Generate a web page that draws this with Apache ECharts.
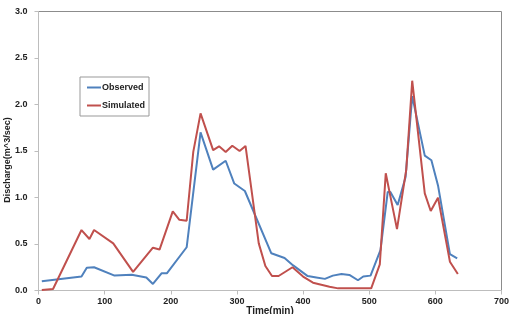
<!DOCTYPE html>
<html>
<head>
<meta charset="utf-8">
<script src="https://cdn.jsdelivr.net/npm/echarts@6/dist/echarts.min.js"></script>
<style>
  html, body { margin: 0; padding: 0; background: #fff; }
  #chart { width: 510px; height: 314px; }
</style>
</head>
<body>
<div id="chart"></div>
<script>
// time (min) / discharge
const obsTime = [5, 65, 73, 84, 115, 141, 163, 173, 186, 194, 224, 245, 264, 283, 296, 312, 352, 372, 385, 407, 420, 433, 445, 458, 470, 483, 491, 502, 517, 528, 532, 543, 555, 565, 584, 594, 604, 622, 633]
const obsFlow = [0.10, 0.15, 0.245, 0.25, 0.16, 0.17, 0.14, 0.07, 0.185, 0.185, 0.465, 1.70, 1.30, 1.395, 1.15, 1.07, 0.40, 0.35, 0.27, 0.155, 0.14, 0.125, 0.16, 0.177, 0.167, 0.11, 0.15, 0.16, 0.435, 1.06, 1.06, 0.92, 1.22, 2.09, 1.45, 1.40, 1.13, 0.39, 0.346]
const simTime = [5, 22, 65, 77, 84, 113, 143, 173, 183, 203, 213, 224, 234, 245, 264, 273, 283, 293, 304, 313, 333, 343, 353, 363, 384, 400, 415, 440, 453, 503, 516, 525, 542, 556, 565, 584, 593, 604, 622, 634]
const simFlow = [0.005, 0.016, 0.65, 0.554, 0.65, 0.507, 0.20, 0.46, 0.44, 0.85, 0.76, 0.75, 1.49, 1.905, 1.51, 1.55, 1.49, 1.557, 1.50, 1.554, 0.507, 0.263, 0.156, 0.156, 0.25, 0.15, 0.084, 0.04, 0.023, 0.023, 0.28, 1.26, 0.66, 1.30, 2.256, 1.045, 0.855, 0.998, 0.31, 0.177]

const chart = echarts.init(document.getElementById('chart'))

const pairs = (xs, ys) => xs.map((x, i) => [x, ys[i]])
const labelStyle = { color: '#222', fontSize: 9, fontWeight: 'bold', fontFamily: 'Liberation Sans' }

chart.setOption({
  animation: false,
  grid: {
    left: 38.5, right: 8.5, top: 11.5, bottom: 23.5,
    outerBoundsMode: 'none',
    containLabel: false,
    show: true, borderColor: '#8c8c8c', borderWidth: 1
  },
  // y axis title sits a bit below the middle in the original, so place it by hand
  graphic: [{
    type: 'text',
    x: 8, y: 160,
    rotation: Math.PI / 2,
    style: Object.assign({
      text: 'Discharge(m^3/sec)',
      fill: '#222',
      align: 'center',
      verticalAlign: 'middle'
    }, { fontSize: 9, fontWeight: 'bold', fontFamily: 'Liberation Sans' })
  }],
  legend: {
    orient: 'vertical',
    left: 80, top: 77,
    padding: [6, 4, 6, 7],
    itemGap: 9,
    itemWidth: 14, itemHeight: 2,
    icon: 'rect',
    borderColor: '#999', borderWidth: 1,
    backgroundColor: '#fff',
    textStyle: Object.assign({}, labelStyle, { padding: [0, 0, 0, -4] }),
    data: ['Observed', 'Simulated']
  },
  xAxis: {
    type: 'value',
    min: 0, max: 700, interval: 100,
    name: 'Time(min)',
    nameLocation: 'middle',
    nameGap: 16,
    nameMoveOverlap: false,
    nameTextStyle: Object.assign({}, labelStyle, { fontSize: 10 }),
    axisLine: { lineStyle: { color: '#bdbdbd' } },
    axisTick: { show: true, length: 4, lineStyle: { color: '#bdbdbd' } },
    axisLabel: Object.assign({ margin: 7 }, labelStyle),
    splitLine: { show: false }
  },
  yAxis: {
    type: 'value',
    min: 0, max: 3, interval: 0.5,
    axisLine: { show: true, lineStyle: { color: '#bdbdbd' } },
    axisTick: { show: true, length: 4, lineStyle: { color: '#bdbdbd' } },
    axisLabel: Object.assign({ margin: 11, formatter: v => v.toFixed(1) }, labelStyle),
    splitLine: { show: false }
  },
  series: [
    {
      name: 'Observed',
      type: 'line',
      data: pairs(obsTime, obsFlow),
      showSymbol: false,
      symbol: 'none',
      lineStyle: { color: '#4f81bd', width: 2 },
      itemStyle: { color: '#4f81bd' }
    },
    {
      name: 'Simulated',
      type: 'line',
      data: pairs(simTime, simFlow),
      showSymbol: false,
      symbol: 'none',
      lineStyle: { color: '#c0504d', width: 2 },
      itemStyle: { color: '#c0504d' }
    }
  ]
})
</script>
</body>
</html>
